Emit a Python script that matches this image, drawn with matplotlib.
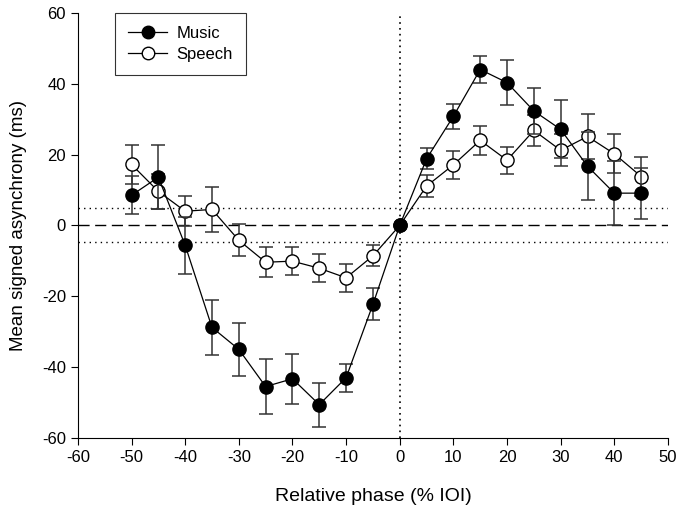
import numpy as np
import matplotlib
matplotlib.use("Agg")
import matplotlib.pyplot as plt
from matplotlib.lines import Line2D

plt.rcParams['font.family'] = ['Liberation Sans', 'DejaVu Sans']
plt.rcParams['axes.unicode_minus'] = False

# Data
phase = [-50, -45, -40, -35, -30, -25, -20, -15, -10, -5, 0, 5, 10, 15, 20, 25, 30, 35, 40, 45]
music = [8.5, 13.6, -5.6, -28.8, -35.0, -45.5, -43.3, -50.6, -43.0, -22.3, 0.0,
         18.8, 30.8, 44.0, 40.3, 32.3, 27.1, 16.7, 9.1, 9.1]
music_err = [5.4, 9.0, 8.0, 7.8, 7.4, 7.7, 7.0, 6.2, 4.0, 4.5, 0.0,
             3.0, 3.6, 3.7, 6.3, 6.5, 8.2, 9.6, 9.0, 7.2]
speech = [17.2, 9.6, 4.0, 4.5, -4.2, -10.4, -10.1, -12.1, -14.8, -8.6, 0.0,
          11.1, 17.1, 24.0, 18.4, 26.8, 21.2, 25.1, 20.2, 13.8]
speech_err = [5.5, 5.0, 4.3, 6.3, 4.5, 4.3, 4.0, 4.0, 4.0, 3.0, 0.0,
              3.0, 4.0, 4.0, 3.8, 4.5, 4.5, 6.3, 5.5, 5.5]

fig = plt.figure(figsize=(6.83, 5.14), dpi=100)
ax = fig.add_axes([0.114, 0.148, 0.864, 0.827])

# reference lines
ax.axhline(0, color="black", lw=1, ls=(0, (8, 4)), zorder=1)
ax.axhline(4.8, color="black", lw=1, ls=(0, (1, 3)), zorder=1)
ax.axhline(-4.8, color="black", lw=1, ls=(0, (1, 3)), zorder=1)
ax.axvline(0, color="black", lw=1.2, ls=(0, (1, 2.5)), zorder=1)

ax.errorbar(phase, speech, yerr=speech_err, fmt="-o", color="black", mfc="white",
            mec="black", ms=9.5, lw=0.9, ecolor="#333333", elinewidth=1.1,
            capsize=5, capthick=1.1, zorder=3)
ax.errorbar(phase, music, yerr=music_err, fmt="-o", color="black", mfc="black",
            mec="black", ms=9.5, lw=0.9, ecolor="#333333", elinewidth=1.1,
            capsize=5, capthick=1.1, zorder=4)

ax.set_xlim(-60, 50)
ax.set_ylim(-60, 60)
ax.set_xticks(np.arange(-60, 51, 10))
ax.set_yticks(np.arange(-60, 61, 20))
for s in ["top", "right"]:
    ax.spines[s].set_visible(False)
ax.tick_params(direction="out", length=5, labelsize=12)
ax.set_xlabel("Relative phase (% IOI)", fontsize=14, labelpad=17)
ax.set_ylabel("Mean signed asynchrony (ms)", fontsize=13.5, labelpad=11)

handles = [
    Line2D([], [], color="black", lw=0.9, marker="o", ms=9, mfc="black", mec="black"),
    Line2D([], [], color="black", lw=0.9, marker="o", ms=9, mfc="white", mec="black"),
]
leg = ax.legend(handles, ["Music", "Speech"], loc="upper left",
                bbox_to_anchor=(0.063, 1.0), fancybox=False, edgecolor="black",
                fontsize=12, handlelength=2.3, handletextpad=0.6,
                labelspacing=0.35, borderpad=0.8, borderaxespad=0)
leg.get_frame().set_linewidth(0.8)

fig.savefig("out.png", dpi=100)
